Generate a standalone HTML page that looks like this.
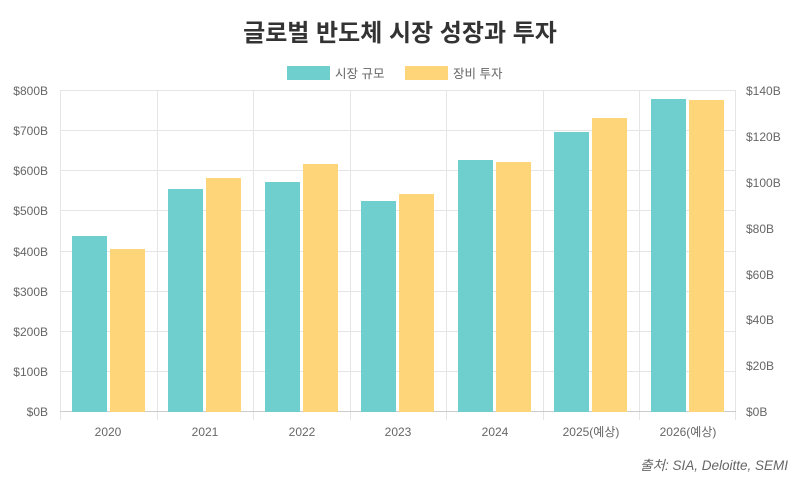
<!DOCTYPE html>
<html><head><meta charset="utf-8"><style>
html,body{margin:0;padding:0;background:#fff;}
svg{display:block;font-family:"Liberation Sans","Noto Sans CJK KR",sans-serif;}
</style></head><body>
<svg width="800" height="483" viewBox="0 0 800 483">
<text x="400" y="41" text-anchor="middle" font-size="24" font-weight="bold" fill="#333">글로벌 반도체 시장 성장과 투자</text>
<rect x="287" y="66" width="43" height="14" fill="#6fcfcf"/>
<text x="335" y="78" font-size="12.5" fill="#666">시장 규모</text>
<rect x="405" y="66" width="43" height="14" fill="#fed578"/>
<text x="453" y="78" font-size="12.5" fill="#666">장비 투자</text>
<g stroke="#e5e5e5" stroke-width="1">
<line x1="60" y1="90.5" x2="736" y2="90.5"/>
<line x1="60" y1="130.5" x2="736" y2="130.5"/>
<line x1="60" y1="170.5" x2="736" y2="170.5"/>
<line x1="60" y1="210.5" x2="736" y2="210.5"/>
<line x1="60" y1="251.5" x2="736" y2="251.5"/>
<line x1="60" y1="291.5" x2="736" y2="291.5"/>
<line x1="60" y1="331.5" x2="736" y2="331.5"/>
<line x1="60" y1="371.5" x2="736" y2="371.5"/>
<line x1="60.5" y1="90" x2="60.5" y2="420"/>
<line x1="157.5" y1="90" x2="157.5" y2="420"/>
<line x1="253.5" y1="90" x2="253.5" y2="420"/>
<line x1="350.5" y1="90" x2="350.5" y2="420"/>
<line x1="446.5" y1="90" x2="446.5" y2="420"/>
<line x1="543.5" y1="90" x2="543.5" y2="420"/>
<line x1="639.5" y1="90" x2="639.5" y2="420"/>
<line x1="735.5" y1="90" x2="735.5" y2="420"/>
<line x1="60" y1="411.5" x2="736" y2="411.5" stroke="#ccc"/>
</g>
<g fill="#6fcfcf">
<rect x="72" y="236" width="35" height="176"/>
<rect x="168" y="189" width="35" height="223"/>
<rect x="265" y="182" width="35" height="230"/>
<rect x="361" y="201" width="35" height="211"/>
<rect x="458" y="160" width="35" height="252"/>
<rect x="554" y="132" width="35" height="280"/>
<rect x="651" y="99" width="35" height="313"/>
</g>
<g fill="#fed578">
<rect x="110" y="249" width="35" height="163"/>
<rect x="206" y="178" width="35" height="234"/>
<rect x="303" y="164" width="35" height="248"/>
<rect x="399" y="194" width="35" height="218"/>
<rect x="496" y="162" width="35" height="250"/>
<rect x="592" y="118" width="35" height="294"/>
<rect x="689" y="100" width="35" height="312"/>
</g>
<g font-size="12" fill="#666" text-anchor="end">
<text x="48" y="95">$800B</text>
<text x="48" y="135">$700B</text>
<text x="48" y="175">$600B</text>
<text x="48" y="215">$500B</text>
<text x="48" y="256">$400B</text>
<text x="48" y="296">$300B</text>
<text x="48" y="336">$200B</text>
<text x="48" y="376">$100B</text>
<text x="48" y="416">$0B</text>
</g>
<g font-size="12" fill="#666" text-anchor="start">
<text x="746" y="95">$140B</text>
<text x="746" y="141">$120B</text>
<text x="746" y="187">$100B</text>
<text x="746" y="233">$80B</text>
<text x="746" y="279">$60B</text>
<text x="746" y="324">$40B</text>
<text x="746" y="370">$20B</text>
<text x="746" y="416">$0B</text>
</g>
<g font-size="12" fill="#666" text-anchor="middle">
<text x="108" y="436">2020</text>
<text x="205" y="436">2021</text>
<text x="302" y="436">2022</text>
<text x="398" y="436">2023</text>
<text x="495" y="436">2024</text>
<text x="591" y="436">2025(예상)</text>
<text x="688" y="436">2026(예상)</text>
</g>
<text x="788" y="470" text-anchor="end" font-size="13.5" font-style="italic" fill="#666">출처: SIA, Deloitte, SEMI</text>
</svg>
</body></html>
